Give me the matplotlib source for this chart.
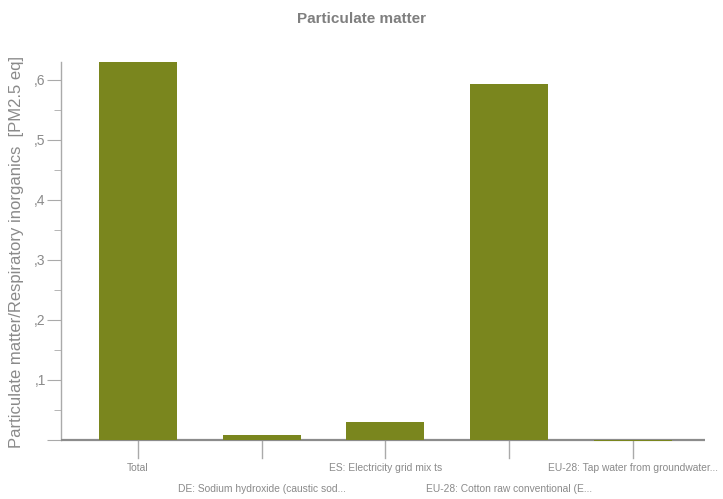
import matplotlib
matplotlib.use('Agg')
import matplotlib.pyplot as plt
from matplotlib.ticker import FixedLocator, MultipleLocator

categories = ['Total',
              'DE: Sodium hydroxide (caustic sod...',
              'ES: Electricity grid mix ts',
              'EU-28: Cotton raw conventional (E...',
              'EU-28: Tap water from groundwater...']
values = [0.630, 0.007, 0.029, 0.593, -0.003]
ytick_vals = [0.1, 0.2, 0.3, 0.4, 0.5, 0.6]
ytick_labels = [',1', ',2', ',3', ',4', ',5', ',6']

plt.rcParams['font.family'] = ['Liberation Sans', 'DejaVu Sans']
txt = '#8a8a8a'

fig = plt.figure(figsize=(7.23, 4.99), dpi=100)
ax = fig.add_axes([61 / 723, 57 / 499, 644 / 723, 380 / 499])

x = list(range(len(categories)))
ax.axhline(0, color='#8c8c8c', lw=1.6, zorder=3)
ax.bar(x, values, width=0.63, color='#7a861e', zorder=4)

ax.set_xlim(-0.62, 4.58)
ax.set_ylim(-0.004, 0.63)

for s in ['top', 'right', 'bottom']:
    ax.spines[s].set_visible(False)
ax.spines['left'].set_color('#aaaaaa')
ax.spines['left'].set_linewidth(1.0)
ax.spines['left'].set_bounds(0, 0.63)

ax.yaxis.set_major_locator(FixedLocator([0] + ytick_vals))
ax.set_yticklabels([''] + ytick_labels)
ax.yaxis.set_minor_locator(MultipleLocator(0.05))
ax.tick_params(axis='y', which='major', length=10, color='#aaaaaa',
               labelsize=10, labelcolor=txt, pad=1)
ax.tick_params(axis='y', which='minor', length=5, color='#aaaaaa')

ax.set_xticks(x)
ax.set_xticklabels([])
ax.tick_params(axis='x', length=0)
for i, lab in enumerate(categories):
    ax.plot([i, i], [0, -0.031], color='#aaaaaa', lw=1, clip_on=False, zorder=1)
    yoff = -0.047 if i % 2 == 0 else -0.083
    ax.text(i, yoff, lab, ha='center', va='center', fontsize=7.4, color=txt)

ax.set_ylabel('Particulate matter/Respiratory inorganics  [PM2.5 eq]',
              fontsize=12, color=txt)
ax.yaxis.set_label_coords(-0.058, 0.5)

fig.text(0.5, 0.962, 'Particulate matter', ha='center', va='center',
         fontsize=11, fontweight='bold', color='#7f7f7f')

fig.savefig('out.png', dpi=100)
